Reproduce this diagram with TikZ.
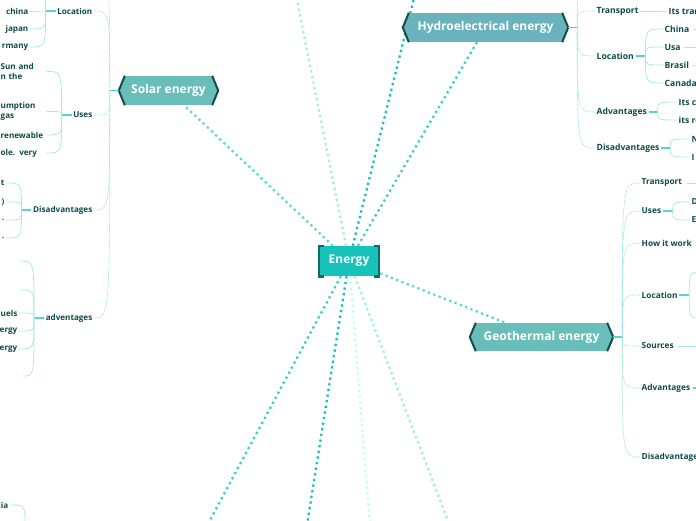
\documentclass[tikz,border=0pt]{standalone}
\usepackage{fontspec}
\setmainfont{Open Sans}
\usepackage{tikz}
\usetikzlibrary{positioning, backgrounds, calc}

\definecolor{inktext}{HTML}{0E4A48}
\definecolor{hubfill}{HTML}{16C2B9}
\definecolor{hubedge}{HTML}{0E6B66}
\definecolor{topicfill}{HTML}{6ABEB9}
\definecolor{hydrofill}{HTML}{69B2BE}
\definecolor{topicedge}{HTML}{0E4E4B}
\definecolor{branchcol}{HTML}{8EE2DD}
\definecolor{twigcol}{HTML}{A6EAE6}
\definecolor{stubcol}{HTML}{5AD3CC}
\definecolor{linkA}{HTML}{5CD8D2}
\definecolor{linkB}{HTML}{3CCEC7}
\definecolor{linkC}{HTML}{15C0B8}
\definecolor{linkD}{HTML}{A2EBEB}
\definecolor{linkE}{HTML}{C4FAFA}

% pointed ends of a main topic
\newcommand{\topicends}[2]{%
  \path[fill=#2, draw=#2, line width=0.4pt] (#1.north west) -- ([xshift=-6pt]#1.west) -- (#1.south west) -- cycle;
  \path[fill=#2, draw=#2, line width=0.4pt] (#1.north east) -- ([xshift=6pt]#1.east) -- (#1.south east) -- cycle;
  \draw[chevron] (#1.north west) -- ([xshift=-6pt]#1.west) -- (#1.south west);
  \draw[chevron] (#1.north east) -- ([xshift=6pt]#1.east) -- (#1.south east);
}

\begin{document}
\begin{tikzpicture}[
    x=1pt, y=-1pt,
    hub/.style={rectangle, fill=hubfill, text=white, font=\bfseries\fontsize{12}{14}\selectfont, minimum width=62pt, minimum height=30pt, inner sep=0pt},
    topic/.style={rectangle, fill=#1, text=white, font=\bfseries\fontsize{12}{14}\selectfont, minimum height=29pt, inner sep=0pt},
    sub/.style={text=inktext, font=\bfseries\fontsize{8.1}{9.6}\selectfont, inner sep=1.5pt},
    hsub/.style={sub, font=\bfseries\fontsize{8.6}{10}\selectfont},
    gsub/.style={sub, font=\bfseries\fontsize{8.3}{10}\selectfont},
    lleaf/.style={sub, align=left, text width=44pt},
    link/.style={line width=2.3pt, dash pattern=on 2.3pt off 3.4pt},
    branch/.style={draw=branchcol, line width=0.6pt, dash pattern=on 1.4pt off 0.9pt},
    twig/.style={draw=twigcol, line width=0.8pt},
    stub/.style={draw=stubcol, line width=1.3pt},
    chevron/.style={draw=topicedge, line width=2pt, line join=miter}
]
    \useasboundingbox (0,0) rectangle (696,520);
    \clip (0,0) rectangle (696,520);
    \coordinate (edgeR) at (700,0);

    % centre and main topics
    \node[hub] (energy) at (349,261) {Energy};
    \draw[hubedge, line width=2.6pt] ([xshift=6pt]energy.north west) -- ([xshift=1.3pt]energy.north west) -- ([xshift=1.3pt]energy.south west) -- ([xshift=6pt]energy.south west);
    \draw[hubedge, line width=2.6pt] ([xshift=-6pt]energy.north east) -- ([xshift=-1.3pt]energy.north east) -- ([xshift=-1.3pt]energy.south east) -- ([xshift=-6pt]energy.south east);

    \node[topic=topicfill, minimum width=87pt] (solar) at (168.5,90.5) {Solar energy};
    \node[topic=hydrofill, minimum width=153pt] (hydro) at (485.5,27.5) {Hydroelectrical energy};
    \node[topic=topicfill, minimum width=131pt, minimum height=28pt] (geo) at (541.5,337) {Geothermal energy};
    \topicends{solar}{topicfill}
    \topicends{hydro}{hydrofill}
    \topicends{geo}{topicfill}

    % links from the centre (under the nodes)
    \coordinate (up1) at (291,-30);
    \coordinate (up2) at (421,-30);
    \coordinate (dn1) at (194,550);
    \coordinate (dn2) at (303,550);
    \coordinate (dn3) at (372,550);
    \coordinate (dn4) at (459,550);
    \begin{scope}[on background layer]
        \clip (0,0) rectangle (696,520);
        \draw[link, linkA] (energy) -- (solar);
        \draw[link, linkD] (energy) -- (up1);
        \draw[link, linkC] (energy) -- (up2);
        \draw[link, linkB] (energy) -- (hydro);
        \draw[link, linkA] (energy) -- ([xshift=-36pt]geo.north);
        \draw[link, linkB] (energy) -- (dn1);
        \draw[link, linkC] (energy) -- (dn2);
        \draw[link, linkE] (energy) -- (dn3);
        \draw[link, linkD] (energy) -- (dn4);
    \end{scope}

    % Solar energy branches
    \node[sub, anchor=east] (sloc) at (94,11) {Location};
    \node[sub, anchor=east] (suse) at (94,115) {Uses};
    \node[sub, anchor=east] (sdis) at (94,210) {Disadvantages};
    \node[sub, anchor=east] (sadv) at (94,318) {adventages};
    \coordinate (stop) at (96,-25);
    \draw[stub] ([xshift=-6pt]solar.west) -- ++(-9,0) coordinate (sj);
    \foreach \t in {sloc, suse, sdis, sadv}
        \draw[branch] (sj) .. controls (sj |- \t.east) .. (\t.east);
    \draw[branch] (sj) .. controls (sj |- stop) .. (stop);

    \node[sub, anchor=east] (lc1) at (30,11) {china};
    \node[sub, anchor=east] (lc2) at (30,29) {japan};
    \node[sub, anchor=east] (lc3) at (30,47) {rmany};
    \coordinate (lc0) at (31,-8);
    \draw[stub] (sloc.west) -- ++(-10,0) coordinate (slj);
    \foreach \t in {lc1, lc2, lc3, lc0}
        \draw[twig] (slj) .. controls (slj |- \t) .. (\t.east);

    \node[lleaf, anchor=west] (uc1) at (-1,71.5) {Sun and\\n the};
    \node[lleaf, anchor=west] (uc2) at (-1,111.5) {umption\\gas};
    \node[lleaf, anchor=west] (uc3) at (-1,135) {renewable};
    \node[lleaf, anchor=west] (uc4) at (-1,153) {ole. very};
    \draw[stub] (suse.west) -- ++(-10,0) coordinate (suj);
    \foreach \t in {uc1, uc2, uc3, uc4}
        \draw[twig] (suj) .. controls (suj |- \t.east) .. (\t.east);

    \node[sub, anchor=east] (dc1) at (6,183) {t};
    \node[sub, anchor=east] (dc2) at (6,202) {)};
    \node[sub, anchor=east] (dc3) at (6,220) {.};
    \node[sub, anchor=east] (dc4) at (6,238) {.};
    \draw[stub] (sdis.west) -- ++(-10,0) coordinate (sdj);
    \foreach \t in {dc1, dc2, dc3, dc4}
        \draw[twig] (sdj) .. controls (sdj |- \t.east) .. (\t.east);

    \coordinate (ac1) at (20,261);
    \coordinate (ac2) at (20,290);
    \node[sub, anchor=east] (ac3) at (19,313) {uels};
    \node[sub, anchor=east] (ac4) at (19,331) {ergy};
    \node[sub, anchor=east] (ac5) at (19,349) {ergy};
    \coordinate (ac6) at (23,376);
    \draw[stub] (sadv.west) -- ++(-10,0) coordinate (saj);
    \foreach \t in {ac1, ac2, ac3, ac4, ac5, ac6}
        \draw[twig] (saj) .. controls (saj |- \t) .. (\t.east);

    % bottom left leftover
    \node[sub, anchor=east] (bl) at (10,505) {lia};
    \coordinate (blj) at (25,525);
    \draw[twig] (blj) .. controls (blj |- bl.east) .. (bl.east);

    % Hydroelectrical energy branches
    \node[hsub, anchor=west] (htr) at (595,11) {Transport};
    \node[hsub, anchor=west] (hloc) at (595,56) {Location};
    \node[hsub, anchor=west] (hadv) at (595,112) {Advantages};
    \node[hsub, anchor=west] (hdis) at (595,148) {Disadvantages};
    \coordinate (htop) at (595,-15);
    \draw[stub] ([xshift=6pt]hydro.east) -- ++(9,0) coordinate (hj);
    \foreach \t in {htr, hloc, hadv, hdis}
        \draw[branch] (hj) .. controls (hj |- \t.west) .. (\t.west);
    \draw[branch] (hj) .. controls (hj |- htop) .. (htop);

    \node[hsub, anchor=west] (htr1) at (667,11) {Its tran};
    \draw[twig] (htr) -- (htr1);

    \node[hsub, anchor=west] (hc1) at (663,29) {China};
    \node[hsub, anchor=west] (hc2) at (663,47) {Usa};
    \node[hsub, anchor=west] (hc3) at (663,65) {Brasil};
    \node[hsub, anchor=west] (hc4) at (663,83) {Canada};
    \draw[stub] (hloc.east) -- ++(10,0) coordinate (hlj);
    \foreach \t in {hc1, hc2, hc3, hc4}
        \draw[twig] (hlj) .. controls (hlj |- \t.west) .. (\t.west);
    \foreach \t in {hc1, hc2, hc3}
        \draw[twig] ([xshift=2pt]\t.east) -- (\t.east -| edgeR);

    \node[hsub, anchor=west] (ha1) at (677,102) {Its c};
    \node[hsub, anchor=west] (ha2) at (677,120) {its re};
    \draw[stub] (hadv.east) -- ++(9,0) coordinate (haj);
    \foreach \t in {ha1, ha2}
        \draw[twig] (haj) .. controls (haj |- \t.west) .. (\t.west);

    \node[hsub, anchor=west] (hd1) at (690,139) {N};
    \node[hsub, anchor=west] (hd2) at (690,157) {I};
    \draw[stub] (hdis.east) -- ++(9,0) coordinate (hdj);
    \foreach \t in {hd1, hd2}
        \draw[twig] (hdj) .. controls (hdj |- \t.west) .. (\t.west);

    % Geothermal energy branches
    \node[gsub, anchor=west] (gtr) at (640,183) {Transport};
    \node[gsub, anchor=west] (guse) at (640,211) {Uses};
    \node[gsub, anchor=west] (ghow) at (640,243) {How it work};
    \node[gsub, anchor=west] (gloc) at (640,295) {Location};
    \node[gsub, anchor=west] (gsrc) at (640,346) {Sources};
    \node[gsub, anchor=west] (gadv) at (640,388) {Advantages};
    \node[gsub, anchor=west] (gdis) at (640,457) {Disadvantage};
    \draw[stub] ([xshift=6pt]geo.east) -- ++(9,0) coordinate (gj);
    \foreach \t in {gtr, guse, ghow, gloc, gsrc, gadv, gdis}
        \draw[branch] (gj) .. controls (gj |- \t.west) .. (\t.west);

    \draw[twig] ([xshift=3pt]gtr.east) -- (gtr.east -| edgeR);
    \draw[twig] ([xshift=3pt]gsrc.east) -- (gsrc.east -| edgeR);
    \draw[stub] ([xshift=1pt]gadv.east) -- (gadv.east -| edgeR);

    \node[gsub, anchor=west] (gu1) at (690,202) {D};
    \node[gsub, anchor=west] (gu2) at (690,220) {E};
    \draw[stub] (guse.east) -- ++(10,0) coordinate (guj);
    \foreach \t in {gu1, gu2}
        \draw[twig] (guj) .. controls (guj |- \t.west) .. (\t.west);

    \coordinate (gl1) at (702,272);
    \coordinate (gl2) at (702,318);
    \draw[stub] (gloc.east) -- ++(10,0) coordinate (glj);
    \foreach \t in {gl1, gl2}
        \draw[twig] (glj) .. controls (glj |- \t) .. (\t);

\end{tikzpicture}
\end{document}
